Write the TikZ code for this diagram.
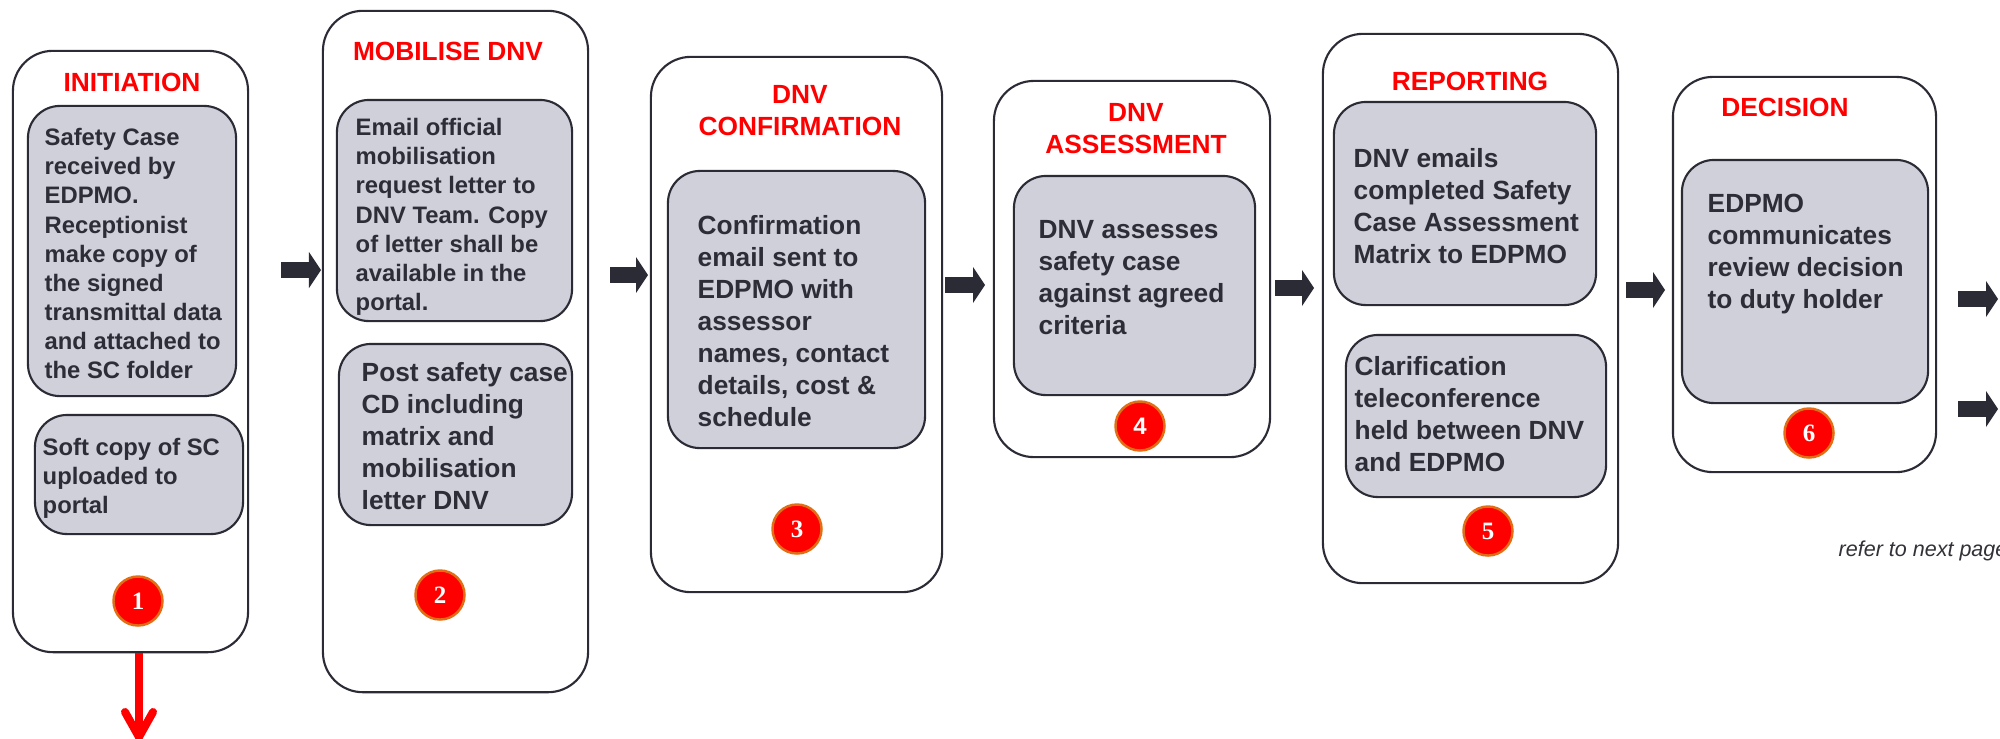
\documentclass[tikz,border=0pt]{standalone}
\usepackage{fontspec}
\setmainfont{Liberation Sans}
\newfontfamily\serifnum{Liberation Serif}
\usetikzlibrary{arrows.meta,calc}
\definecolor{lineC}{RGB}{43,43,54}
\definecolor{fillC}{RGB}{208,208,218}
\definecolor{textC}{RGB}{45,45,56}
\definecolor{titleC}{RGB}{255,0,0}
\definecolor{badgeB}{RGB}{225,110,20}
\definecolor{noteC}{RGB}{50,50,56}
\tikzset{
  outerbox/.style={draw=lineC, line width=0.6pt, rounded corners=0.4cm, fill=white, inner sep=0pt},
  innerbox/.style={draw=lineC, line width=0.6pt, rounded corners=0.32cm, fill=fillC, inner sep=0pt},
  smalltxt/.style={anchor=north west, inner sep=0pt, align=left, text=textC, font=\fontsize{6.77pt}{8.25pt}\selectfont\bfseries},
  bigtxt/.style={anchor=north west, inner sep=0pt, align=left, text=textC, font=\fontsize{7.48pt}{9.1pt}\selectfont\bfseries},
  titletxt/.style={inner sep=0pt, align=center, text=titleC, font=\fontsize{7.48pt}{9.1pt}\selectfont\bfseries},
  badge/.style={circle, fill=red, draw=badgeB, line width=0.7pt, minimum size=0.49cm, inner sep=0pt, text=white, font=\serifnum\fontsize{7.1pt}{8pt}\selectfont\bfseries},
  blockarr/.style={draw=lineC, line width=0.16cm, -{Triangle[length=0.12cm, width=0.36cm, line width=0pt]}},
  redarr/.style={draw=red, line width=0.08cm, line cap=round, line join=round},
}
\begin{document}
\begin{tikzpicture}[x=0.01cm, y=-0.01cm]
\useasboundingbox (0,0) rectangle (2000,738);
\fill[white] (0,0) rectangle (2000,738);

% outer boxes
\node[outerbox, minimum width=2.35cm, minimum height=6.01cm] (b1) at (130.5,351.5) {};
\node[outerbox, minimum width=2.65cm, minimum height=6.81cm] (b2) at (455.5,351.5) {};
\node[outerbox, minimum width=2.91cm, minimum height=5.35cm] (b3) at (796.5,324.5) {};
\node[outerbox, minimum width=2.76cm, minimum height=3.76cm] (b4) at (1132,269) {};
\node[outerbox, minimum width=2.95cm, minimum height=5.49cm] (b5) at (1470.5,308.5) {};
\node[outerbox, minimum width=2.63cm, minimum height=3.95cm] (b6) at (1804.5,274.5) {};

% inner boxes
\node[innerbox, minimum width=2.08cm, minimum height=2.90cm] (i1a) at (132,251) {};
\node[innerbox, minimum width=2.08cm, minimum height=1.19cm] (i1b) at (139,474.5) {};
\node[innerbox, minimum width=2.35cm, minimum height=2.21cm] (i2a) at (454.5,210.5) {};
\node[innerbox, minimum width=2.33cm, minimum height=1.81cm] (i2b) at (455.5,434.5) {};
\node[innerbox, minimum width=2.57cm, minimum height=2.77cm] (i3) at (796.5,309.5) {};
\node[innerbox, minimum width=2.41cm, minimum height=2.19cm] (i4) at (1134.5,285.5) {};
\node[innerbox, minimum width=2.62cm, minimum height=2.03cm] (i5a) at (1465,203.5) {};
\node[innerbox, minimum width=2.60cm, minimum height=1.62cm] (i5b) at (1476,416) {};
\node[innerbox, minimum width=2.46cm, minimum height=2.43cm] (i6) at (1805,281.5) {};

% titles
\node[titletxt] (h1) at (132,82) {INITIATION};
\node[titletxt] (h2) at (448,51) {MOBILISE DNV};
\node[titletxt] (h3) at (800,111) {DNV\\CONFIRMATION};
\node[titletxt] (h4) at (1136,129) {DNV\\ASSESSMENT};
\node[titletxt] (h5) at (1470,81) {REPORTING};
\node[titletxt] (h6) at (1785,107) {DECISION};

% texts
\node[smalltxt] (t1a) at (44,128) {Safety Case\\received by\\EDPMO.\\Receptionist\\make copy of\\the signed\\transmittal data\\and attached to\\the SC folder};
\node[smalltxt] (t1b) at (42,438) {Soft copy of SC\\uploaded to\\portal};
\node[smalltxt] (t2a) at (355,118) {Email official\\mobilisation\\request letter to\\DNV Team. Copy\\of letter shall be\\available in the\\portal.};
\node[bigtxt] (t2b) at (361,362) {Post safety case\\CD including\\matrix and\\mobilisation\\letter DNV};
\node[bigtxt] (t3) at (697,215) {Confirmation\\email sent to\\EDPMO with\\assessor\\names, contact\\details, cost \&\\schedule};
\node[bigtxt] (t4) at (1038,220) {DNV assesses\\safety case\\against agreed\\criteria};
\node[bigtxt] (t5a) at (1353,148) {DNV emails\\completed Safety\\Case Assessment\\Matrix to EDPMO};
\node[bigtxt] (t5b) at (1354,356) {Clarification\\teleconference\\held between DNV\\and EDPMO};
\node[bigtxt] (t6) at (1707,193) {EDPMO\\communicates\\review decision\\to duty holder};

% badges
\node[badge] (n1) at (138,601) {1};
\node[badge] (n2) at (440,595) {2};
\node[badge] (n3) at (797,529) {3};
\node[badge, font=\fontsize{6.8pt}{8pt}\selectfont\bfseries] (n4) at (1140,426) {4};
\node[badge] (n5) at (1488,531) {5};
\node[badge] (n6) at (1809,433) {6};

% block arrows
\coordinate (a12s) at (281,270); \coordinate (a12e) at (321,270);
\coordinate (a23s) at (610,275); \coordinate (a23e) at (648,275);
\coordinate (a34s) at (945,285); \coordinate (a34e) at (985,285);
\coordinate (a45s) at (1275,288); \coordinate (a45e) at (1314,288);
\coordinate (a56s) at (1626,290); \coordinate (a56e) at (1665,290);
\coordinate (o1s) at (1958,299); \coordinate (o1e) at (1998,299);
\coordinate (o2s) at (1958,409); \coordinate (o2e) at (1998,409);
\draw[blockarr] (a12s) -- (a12e);
\draw[blockarr] (a23s) -- (a23e);
\draw[blockarr] (a34s) -- (a34e);
\draw[blockarr] (a45s) -- (a45e);
\draw[blockarr] (a56s) -- (a56e);
\draw[blockarr] (o1s) -- (o1e);
\draw[blockarr] (o2s) -- (o2e);

% red arrow down
\coordinate (redtip) at (139,737);
\draw[redarr, line cap=butt] (b1.south -| redtip) -- (redtip);
\draw[redarr] ($(redtip)+(-14,-25)$) -- (redtip) -- ($(redtip)+(14,-25)$);

% note
\node[anchor=base west, inner sep=0pt, text=noteC, font=\fontsize{6.12pt}{7pt}\selectfont\itshape] (note) at (1838,556) {refer to next page};
\end{tikzpicture}
\end{document}
